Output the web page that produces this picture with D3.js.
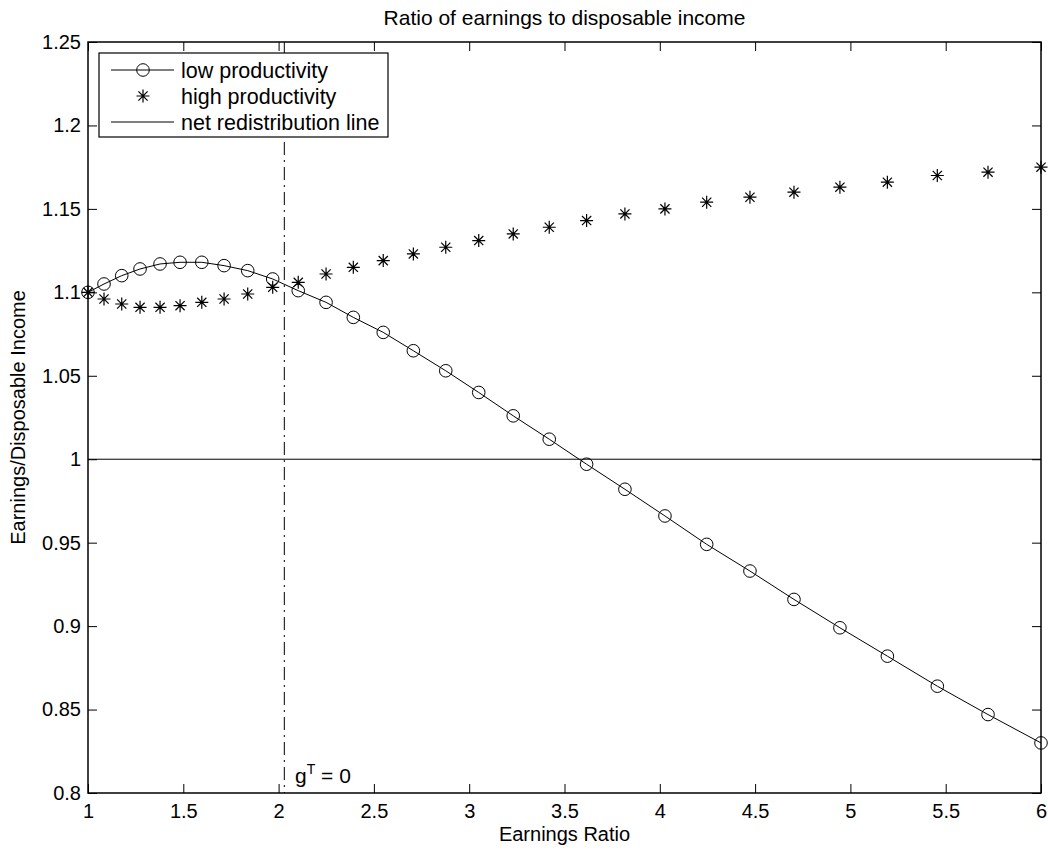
<!DOCTYPE html>
<html>
<head>
<meta charset="utf-8">
<script src="https://cdn.jsdelivr.net/npm/d3@7"></script>
<style>
  html, body { margin: 0; padding: 0; background: #fff; }
  svg { display: block; font-family: "Liberation Sans", Arial, Helvetica, sans-serif; }
</style>
</head>
<body>
<svg id="chart" width="1048" height="852"></svg>
<script>
// ---- data ----
const xValues = [1.00, 1.084, 1.177, 1.273, 1.378, 1.483, 1.597, 1.714, 1.838, 1.969,
                 2.103, 2.249, 2.392, 2.549, 2.707, 2.877, 3.050, 3.231, 3.420, 3.616,
                 3.817, 4.027, 4.246, 4.473, 4.704, 4.945, 5.194, 5.456, 5.722, 6.0];
const lowProductivity = [1.100, 1.105, 1.110, 1.114, 1.117, 1.118, 1.118, 1.116, 1.113, 1.108,
                         1.101, 1.094, 1.085, 1.076, 1.065, 1.053, 1.040, 1.026, 1.012, 0.997,
                         0.982, 0.966, 0.949, 0.933, 0.916, 0.899, 0.882, 0.864, 0.847, 0.830];
const highProductivity = [1.100, 1.096, 1.093, 1.091, 1.091, 1.092, 1.094, 1.096, 1.099, 1.103,
                          1.106, 1.111, 1.115, 1.119, 1.123, 1.127, 1.131, 1.135, 1.139, 1.143,
                          1.147, 1.150, 1.154, 1.157, 1.160, 1.163, 1.166, 1.170, 1.172, 1.175];
const redistributionLevel = 1;
const gTZeroX = 2.03;
const xTicks = [1, 1.5, 2, 2.5, 3, 3.5, 4, 4.5, 5, 5.5, 6];
const yTicks = [0.8, 0.85, 0.9, 0.95, 1, 1.05, 1.1, 1.15, 1.2, 1.25];
const xDomain = [1, 6];
const yDomain = [0.8, 1.25];
const titleText = "Ratio of earnings to disposable income";
const xLabelText = "Earnings Ratio";
const yLabelText = "Earnings/Disposable Income";
const legendLabels = ["low productivity", "high productivity", "net redistribution line"];

// ---- layout ----
const L = 88, R = 1041, T = 42, B = 793;
const svg = d3.select("#chart");
const x = d3.scaleLinear().domain(xDomain).range([L, R]);
const y = d3.scaleLinear().domain(yDomain).range([B, T]);
const fontSize = 20;
const tickLen = 9;

// axes box ticks (inward, on all four sides)
const fmt = d => String(+d.toFixed(2));
const axB = svg.append("g").attr("transform", `translate(0,${B})`)
  .call(d3.axisBottom(x).tickValues(xTicks).tickFormat(fmt).tickSizeInner(-tickLen).tickSizeOuter(0).tickPadding(11));
const axT = svg.append("g").attr("transform", `translate(0,${T})`)
  .call(d3.axisTop(x).tickValues(xTicks).tickFormat("").tickSizeInner(-tickLen).tickSizeOuter(0));
const axL = svg.append("g").attr("transform", `translate(${L},0)`)
  .call(d3.axisLeft(y).tickValues(yTicks).tickFormat(fmt).tickSizeInner(-tickLen).tickSizeOuter(0).tickPadding(7));
const axR = svg.append("g").attr("transform", `translate(${R},0)`)
  .call(d3.axisRight(y).tickValues(yTicks).tickFormat("").tickSizeInner(-tickLen).tickSizeOuter(0));
[axB, axT, axL, axR].forEach(a => {
  a.select(".domain").remove();
  a.selectAll(".tick line").attr("stroke", "#000").attr("stroke-width", 1);
  a.selectAll("text").attr("fill", "#000").attr("font-size", fontSize)
    .attr("font-family", "'Liberation Sans', Arial, sans-serif");
});
axB.selectAll("text").attr("dy", "0.71em");

// box
svg.append("rect").attr("x", L).attr("y", T).attr("width", R - L).attr("height", B - T)
  .attr("fill", "none").attr("stroke", "#000").attr("stroke-width", 1.5);

// net redistribution line
svg.append("line").attr("x1", x(xDomain[0])).attr("x2", x(xDomain[1]))
  .attr("y1", y(redistributionLevel)).attr("y2", y(redistributionLevel))
  .attr("stroke", "#000").attr("stroke-width", 1);

// vertical dash-dot line
svg.append("line").attr("x1", x(gTZeroX)).attr("x2", x(gTZeroX))
  .attr("y1", y(yDomain[1])).attr("y2", y(yDomain[0]))
  .attr("stroke", "#000").attr("stroke-width", 1).attr("stroke-dasharray", "13,5,2,5");

// low productivity line + circles
const pts = xValues.map((v, i) => [v, lowProductivity[i]]);
svg.append("path").datum(pts)
  .attr("d", d3.line().x(d => x(d[0])).y(d => y(d[1])))
  .attr("fill", "none").attr("stroke", "#000").attr("stroke-width", 1);
svg.append("g").selectAll("circle").data(pts).join("circle")
  .attr("cx", d => x(d[0])).attr("cy", d => y(d[1])).attr("r", 6.3)
  .attr("fill", "none").attr("stroke", "#000").attr("stroke-width", 1);

// star marker
function star(g, cx, cy, s) {
  const d = s * 0.707;
  const p = `M${cx - s},${cy}L${cx + s},${cy}M${cx},${cy - s}L${cx},${cy + s}` +
            `M${cx - d},${cy - d}L${cx + d},${cy + d}M${cx - d},${cy + d}L${cx + d},${cy - d}`;
  g.append("path").attr("d", p).attr("stroke", "#000").attr("stroke-width", 1.2).attr("fill", "none");
}
const starG = svg.append("g");
xValues.forEach((v, i) => star(starG, x(v), y(highProductivity[i]), 6.5));

// g^T = 0 label
const gl = svg.append("text").attr("x", 295).attr("y", 783).attr("font-size", 21).attr("fill", "#000");
gl.append("tspan").text("g");
gl.append("tspan").attr("dy", -9).attr("font-size", 14).text("T");
gl.append("tspan").attr("dy", 9).text(" = 0");

// legend
const lg = svg.append("g");
lg.append("rect").attr("x", 99).attr("y", 53).attr("width", 289).attr("height", 84)
  .attr("fill", "#fff").attr("stroke", "#000").attr("stroke-width", 1.2);
const rowY = [70, 96, 122];
lg.append("line").attr("x1", 111).attr("x2", 174).attr("y1", rowY[0]).attr("y2", rowY[0]).attr("stroke", "#000");
lg.append("circle").attr("cx", 143).attr("cy", rowY[0]).attr("r", 6.3).attr("fill", "none").attr("stroke", "#000");
star(lg, 143, rowY[1], 6.5);
lg.append("line").attr("x1", 111).attr("x2", 174).attr("y1", rowY[2]).attr("y2", rowY[2]).attr("stroke", "#000");
lg.selectAll("text.leg").data(legendLabels).join("text").attr("class", "leg")
  .attr("x", 181).attr("y", (d, i) => rowY[i]).attr("dy", "0.36em")
  .attr("font-size", 21.5).attr("fill", "#000").text(d => d);

// title and axis labels
svg.append("text").attr("x", (L + R) / 2).attr("y", 25).attr("text-anchor", "middle")
  .attr("font-size", 21).attr("fill", "#000").text(titleText);
svg.append("text").attr("x", (L + R) / 2).attr("y", 841).attr("text-anchor", "middle")
  .attr("font-size", fontSize).attr("fill", "#000").text(xLabelText);
svg.append("text").attr("transform", `translate(25,${(T + B) / 2}) rotate(-90)`)
  .attr("text-anchor", "middle").attr("font-size", fontSize).attr("fill", "#000").text(yLabelText);
</script>
</body>
</html>
